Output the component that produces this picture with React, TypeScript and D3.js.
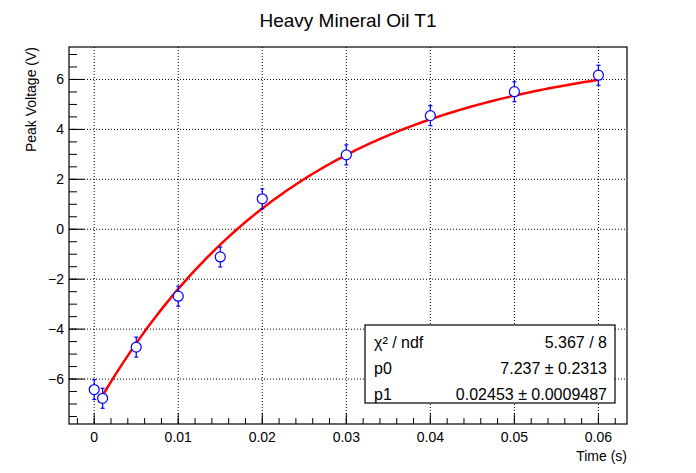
import React from 'react';
import * as d3 from 'd3';

const times = [0, 0.001, 0.005, 0.01, 0.015, 0.02, 0.03, 0.04, 0.05, 0.06];
const volts = [-6.42, -6.77, -4.72, -2.68, -1.11, 1.22, 2.98, 4.55, 5.51, 6.17];
const errs = [0.4, 0.4, 0.4, 0.4, 0.4, 0.4, 0.4, 0.4, 0.4, 0.4];
const xTicks = [0, 0.01, 0.02, 0.03, 0.04, 0.05, 0.06];
const yTicks = [-6, -4, -2, 0, 2, 4, 6];
const p0 = 7.237;
const p1 = 0.02453;
const statRows = [
  ['χ² / ndf', '5.367 / 8'],
  ['p0', '7.237 ± 0.2313'],
  ['p1', '0.02453 ± 0.0009487'],
];

const W = 696, H = 473;
const L = 69, R = 627, T = 47, B = 424;

const App: React.FC = () => {
  const x = d3.scaleLinear().domain([-0.003, 0.0634]).range([L, R]);
  const y = d3.scaleLinear().domain([-7.8, 7.3]).range([B, T]);
  const fitX = d3.range(0.0005, 0.0601, 0.0005);
  const line = d3.line<number>().x(t => x(t)).y(t => y(p0 * (1 - 2 * Math.exp(-t / p1))));
  const xMinor = d3.range(-0.002, 0.0634, 0.002);
  const yMinor = d3.range(-7.5, 7.3, 0.5);
  const font = 'Liberation Sans, Arial, sans-serif';

  return (
    <svg width={W} height={H} style={{ position: 'absolute', left: 0, top: 0, background: '#fff' }} fontFamily={font}>
      <text x={W / 2} y={27} textAnchor="middle" fontSize={19}>Heavy Mineral Oil T1</text>
      {/* grid */}
      {xTicks.map(t => <line key={'gx' + t} x1={x(t)} x2={x(t)} y1={T} y2={B} stroke="#000" strokeDasharray="1,2" strokeWidth={1} />)}
      {yTicks.map(t => <line key={'gy' + t} x1={L} x2={R} y1={y(t)} y2={y(t)} stroke="#000" strokeDasharray="1,2" strokeWidth={1} />)}
      <rect x={L} y={T} width={R - L} height={B - T} fill="none" stroke="#000" strokeWidth={1.2} />
      {/* ticks */}
      {xMinor.map(t => <line key={'mx' + t} x1={x(t)} x2={x(t)} y1={B} y2={B - 6} stroke="#000" />)}
      {xTicks.map(t => (
        <g key={'tx' + t}>
          <line x1={x(t)} x2={x(t)} y1={B} y2={B - 11} stroke="#000" />
          <text x={x(t)} y={B + 18} textAnchor="middle" fontSize={14}>{t === 0 ? '0' : String(t)}</text>
        </g>
      ))}
      {yMinor.map(t => <line key={'my' + t} x1={L} x2={L + 8} y1={y(t)} y2={y(t)} stroke="#000" />)}
      {yTicks.map(t => (
        <g key={'ty' + t}>
          <line x1={L} x2={L + 16} y1={y(t)} y2={y(t)} stroke="#000" />
          <text x={L - 5} y={y(t) + 5} textAnchor="end" fontSize={14}>{t < 0 ? '\u2212' + (-t) : String(t)}</text>
        </g>
      ))}
      <text x={R} y={461} textAnchor="end" fontSize={14}>Time (s)</text>
      <text transform={`translate(36,${T}) rotate(-90)`} textAnchor="end" fontSize={14}>Peak Voltage (V)</text>
      {/* fit */}
      <path d={line(fitX) || ''} fill="none" stroke="#ff0000" strokeWidth={2.5} />
      {/* points */}
      {times.map((t, i) => (
        <g key={'p' + i} stroke="#0000ff" strokeWidth={1.2} fill="none">
          <line x1={x(t)} x2={x(t)} y1={y(volts[i] - errs[i])} y2={y(volts[i] + errs[i])} />
          <line x1={x(t) - 2} x2={x(t) + 2} y1={y(volts[i] - errs[i])} y2={y(volts[i] - errs[i])} />
          <line x1={x(t) - 2} x2={x(t) + 2} y1={y(volts[i] + errs[i])} y2={y(volts[i] + errs[i])} />
          <circle cx={x(t)} cy={y(volts[i])} r={5} fill="#fff" />
        </g>
      ))}
      {/* stats box */}
      <rect x={365} y={325} width={250} height={78} fill="#fff" stroke="#000" strokeWidth={1.2} />
      {statRows.map((r, i) => (
        <g key={'s' + i} fontSize={16}>
          <text x={374} y={348 + i * 26}>{r[0]}</text>
          <text x={607} y={348 + i * 26} textAnchor="end">{r[1]}</text>
        </g>
      ))}
    </svg>
  );
};

export default App;
